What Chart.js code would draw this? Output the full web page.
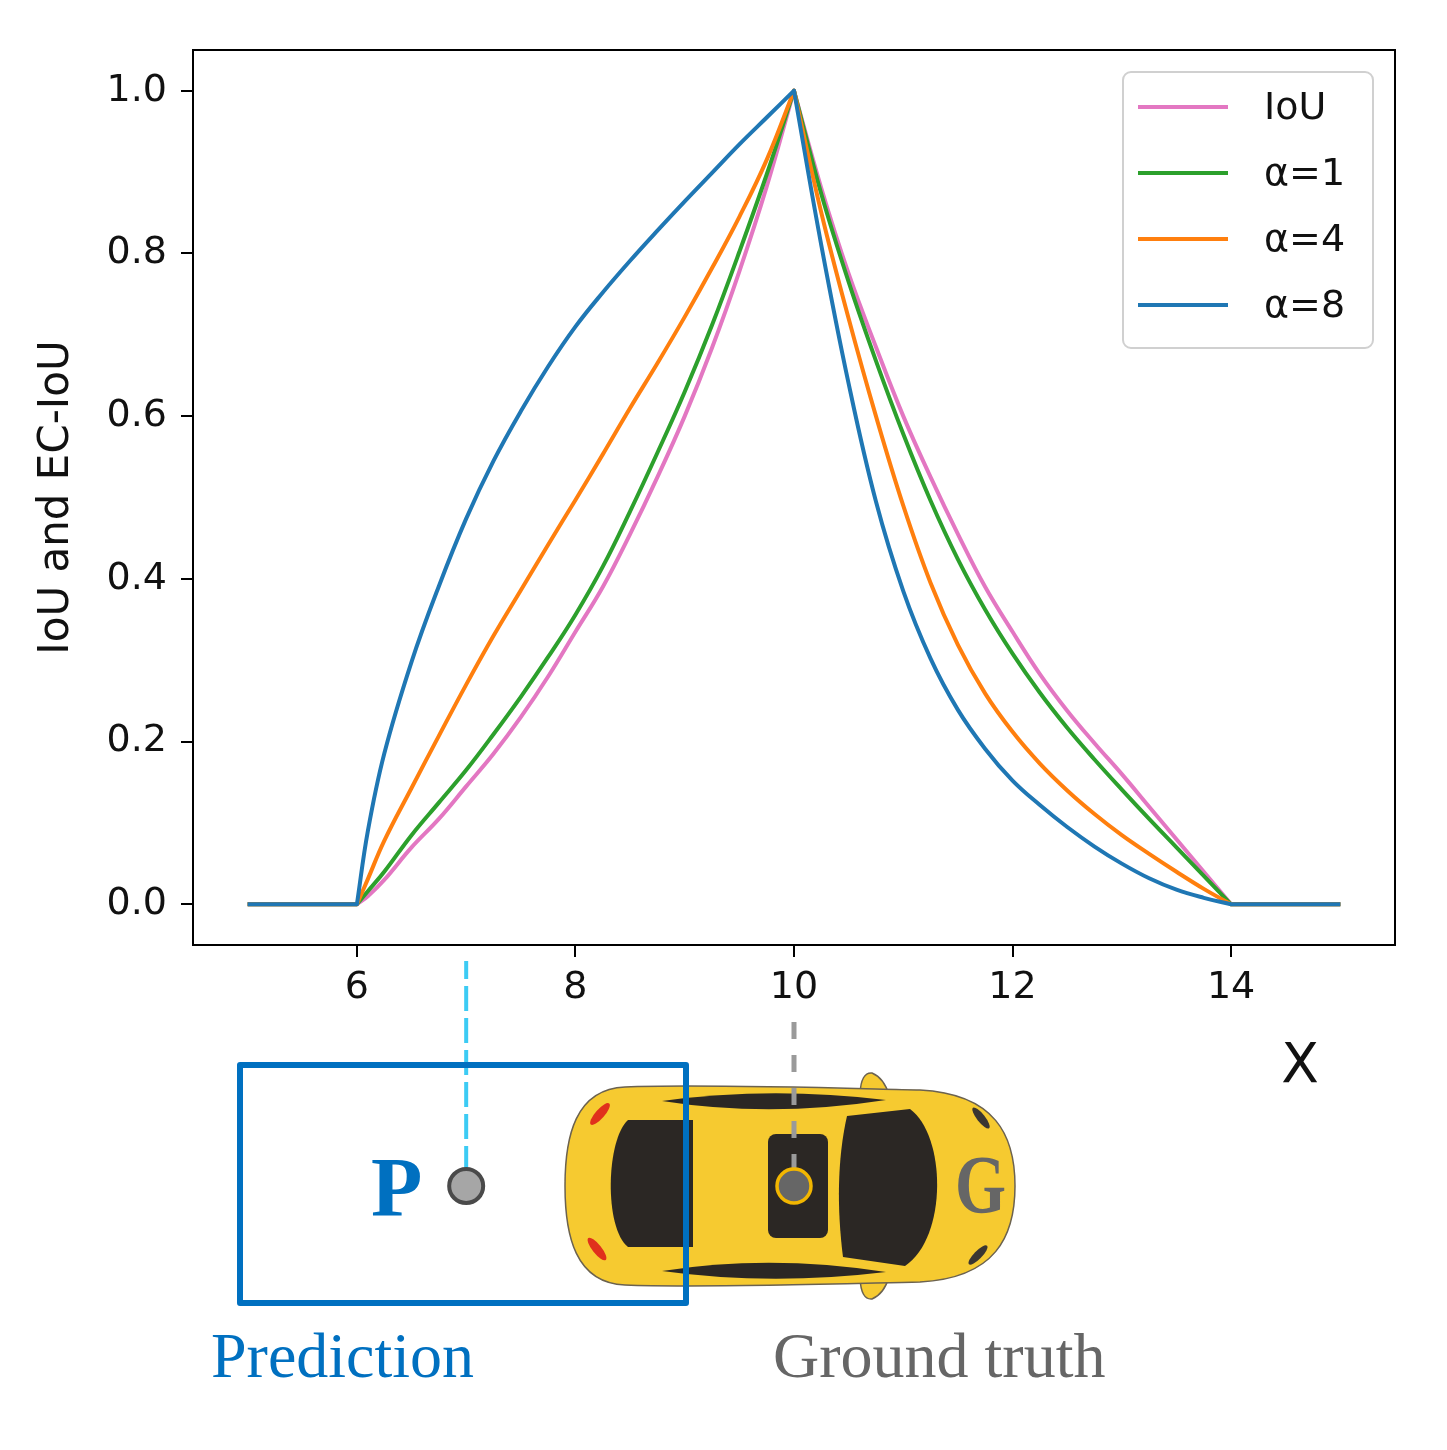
<!DOCTYPE html>
<html>
<head>
<meta charset="utf-8">
<title>IoU and EC-IoU</title>
<script src="https://cdn.jsdelivr.net/npm/chart.js@4.4.1/dist/chart.umd.min.js"></script>
<style>
  body { margin: 0; background: #fff; }
  #wrap { position: relative; width: 1447px; height: 1450px; }
</style>
</head>
<body>
<div id="wrap"><canvas id="iou-chart"></canvas></div>
<script>
const xValues = [5, 6, 6.1, 6.25, 6.5, 6.75, 7, 7.25, 7.5, 7.75, 8, 8.25, 8.5, 8.75, 9, 9.25, 9.5, 9.75, 10,
  10.25, 10.5, 10.75, 11, 11.25, 11.5, 11.75, 12, 12.25, 12.5, 12.75, 13, 13.25, 13.5, 13.75, 14, 15];

const iouValues = [0, 0, 0.01, 0.03, 0.07, 0.105, 0.145, 0.185, 0.23, 0.28, 0.335, 0.39, 0.455, 0.525, 0.6, 0.684, 0.778, 0.882, 1,
  0.88, 0.775, 0.685, 0.6, 0.525, 0.455, 0.39, 0.335, 0.283, 0.238, 0.198, 0.16, 0.12, 0.08, 0.04, 0, 0];
const alpha1Values = [0, 0, 0.016, 0.04, 0.085, 0.125, 0.165, 0.209, 0.255, 0.304, 0.356, 0.415, 0.483, 0.555, 0.63, 0.712, 0.802, 0.897, 1,
  0.873, 0.765, 0.668, 0.578, 0.496, 0.424, 0.362, 0.308, 0.26, 0.217, 0.178, 0.141, 0.105, 0.07, 0.035, 0, 0];
const alpha4Values = [0, 0, 0.031, 0.078, 0.143, 0.207, 0.27, 0.33, 0.386, 0.442, 0.497, 0.553, 0.61, 0.665, 0.722, 0.782, 0.845, 0.915, 1,
  0.85, 0.72, 0.6, 0.49, 0.395, 0.319, 0.259, 0.212, 0.173, 0.14, 0.111, 0.085, 0.062, 0.04, 0.019, 0, 0];
const alpha8Values = [0, 0, 0.09, 0.185, 0.298, 0.391, 0.474, 0.545, 0.606, 0.661, 0.71, 0.752, 0.791, 0.828, 0.864, 0.899, 0.934, 0.967, 1,
  0.81, 0.64, 0.495, 0.385, 0.302, 0.239, 0.191, 0.152, 0.122, 0.095, 0.071, 0.05, 0.032, 0.018, 0.008, 0, 0];

// the curves have sharp corners here, everything else is smooth
const cornerX = [6, 10, 14];

const seriesLabels = ["IoU", "α=1", "α=4", "α=8"];
const seriesColors = ["#e377c2", "#2ca02c", "#ff7f0e", "#1f77b4"];
const xTicks = [6, 8, 10, 12, 14];
const yTicks = [0, 0.2, 0.4, 0.6, 0.8, 1.0];

// where the prediction and ground truth centres sit on X
const predictionX = 7;
const groundTruthX = 10;

const tickFont = { family: "DejaVu Sans", size: 38 };
const serif = '"Liberation Serif", "Times New Roman", serif';

// a corner point is given twice so the spline keeps the corner sharp
function toPoints(values) {
  const points = [];
  xValues.forEach((x, i) => {
    points.push({ x: x, y: values[i] });
    if (cornerX.includes(x)) points.push({ x: x, y: values[i] });
  });
  return points;
}

// legend box inside the plot, upper right
function drawLegend(ctx, chart) {
  ctx.save();
  ctx.beginPath();
  ctx.roundRect(1123, 72, 250, 276, 8);
  ctx.fillStyle = "rgba(255,255,255,0.8)";
  ctx.fill();
  ctx.strokeStyle = "#d0d0d0";
  ctx.lineWidth = 2;
  ctx.stroke();
  ctx.font = '38px "DejaVu Sans"';
  ctx.textBaseline = "middle";
  ctx.fillStyle = "#111";
  chart.data.datasets.forEach((ds, i) => {
    const y = 107 + i * 66;
    ctx.beginPath();
    ctx.moveTo(1138, y);
    ctx.lineTo(1228, y);
    ctx.strokeStyle = ds.borderColor;
    ctx.lineWidth = 4;
    ctx.stroke();
    ctx.fillText(ds.label, 1264, y + 2);
  });
  ctx.restore();
}

function drawCar(ctx) {
  const yellow = "#f6ca30";
  const dark = "#2b2724";
  const edge = "#6b6250";
  const cy = 1186;
  ctx.save();
  ctx.lineWidth = 1.5;
  ctx.strokeStyle = edge;
  ctx.fillStyle = yellow;

  // side mirrors
  [1, -1].forEach((s) => {
    ctx.beginPath();
    ctx.moveTo(860, cy - s * 92);
    ctx.quadraticCurveTo(861, cy - s * 114, 872, cy - s * 113);
    ctx.quadraticCurveTo(884, cy - s * 108, 889, cy - s * 91);
    ctx.closePath();
    ctx.fill();
    ctx.stroke();
  });

  // body
  ctx.beginPath();
  ctx.moveTo(625, 1087);
  ctx.bezierCurveTo(700, 1084, 830, 1088, 920, 1090);
  ctx.bezierCurveTo(995, 1094, 1015, 1135, 1015, cy);
  ctx.bezierCurveTo(1015, 1237, 995, 1278, 920, 1282);
  ctx.bezierCurveTo(830, 1284, 700, 1288, 625, 1285);
  ctx.bezierCurveTo(575, 1283, 565, 1235, 565, cy);
  ctx.bezierCurveTo(565, 1137, 575, 1089, 625, 1087);
  ctx.closePath();
  ctx.fill();
  ctx.stroke();

  ctx.fillStyle = dark;
  // rear window
  ctx.beginPath();
  ctx.moveTo(693, 1120);
  ctx.lineTo(628, 1120);
  ctx.bezierCurveTo(606, 1140, 604, 1228, 628, 1247);
  ctx.lineTo(693, 1247);
  ctx.closePath();
  ctx.fill();

  // side window strips
  [1, -1].forEach((s) => {
    ctx.beginPath();
    ctx.moveTo(662, cy - s * 85);
    ctx.quadraticCurveTo(770, cy - s * 100, 886, cy - s * 86);
    ctx.quadraticCurveTo(770, cy - s * 68, 662, cy - s * 85);
    ctx.closePath();
    ctx.fill();
  });

  // sunroof
  ctx.beginPath();
  ctx.roundRect(768, 1134, 60, 104, 8);
  ctx.fill();

  // windscreen
  ctx.beginPath();
  ctx.moveTo(847, 1116);
  ctx.lineTo(910, 1109);
  ctx.bezierCurveTo(946, 1135, 948, 1237, 905, 1266);
  ctx.lineTo(843, 1257);
  ctx.bezierCurveTo(837, 1210, 837, 1160, 847, 1116);
  ctx.closePath();
  ctx.fill();

  // tail lights
  ctx.fillStyle = "#e0301c";
  ctx.beginPath();
  ctx.ellipse(600, 1114, 14, 4.5, -0.85, 0, Math.PI * 2);
  ctx.fill();
  ctx.beginPath();
  ctx.ellipse(597, 1249, 14, 4.5, 0.9, 0, Math.PI * 2);
  ctx.fill();

  // headlights
  ctx.fillStyle = "#3a3632";
  ctx.beginPath();
  ctx.ellipse(981, 1118, 13, 4, 0.9, 0, Math.PI * 2);
  ctx.fill();
  ctx.beginPath();
  ctx.ellipse(978, 1255, 13, 4, -0.8, 0, Math.PI * 2);
  ctx.fill();
  ctx.restore();
}

function drawScene(ctx, xScale) {
  const px = xScale.getPixelForValue(predictionX);
  const gx = xScale.getPixelForValue(groundTruthX);
  const cy = 1186;

  drawCar(ctx);

  ctx.save();
  // ground truth centre line and marker
  ctx.setLineDash([17, 16]);
  ctx.strokeStyle = "#9a9a9a";
  ctx.lineWidth = 5;
  ctx.beginPath();
  ctx.moveTo(gx, 1022);
  ctx.lineTo(gx, cy - 18);
  ctx.stroke();
  ctx.setLineDash([]);
  ctx.beginPath();
  ctx.arc(gx, cy, 17, 0, Math.PI * 2);
  ctx.fillStyle = "#666666";
  ctx.fill();
  ctx.strokeStyle = "#f2b600";
  ctx.lineWidth = 3.5;
  ctx.stroke();

  // the G is narrower than plain Times bold
  ctx.save();
  ctx.translate(955, 1212);
  ctx.scale(0.8, 1);
  ctx.fillStyle = "#666666";
  ctx.font = "bold 82px " + serif;
  ctx.fillText("G", 0, 0);
  ctx.restore();

  // prediction centre line and marker
  ctx.setLineDash([25, 7]);
  ctx.lineDashOffset = 7;
  ctx.strokeStyle = "#3ccbf4";
  ctx.lineWidth = 4;
  ctx.beginPath();
  ctx.moveTo(px, 961);
  ctx.lineTo(px, cy - 18);
  ctx.stroke();
  ctx.setLineDash([]);
  ctx.beginPath();
  ctx.arc(px, cy, 17, 0, Math.PI * 2);
  ctx.fillStyle = "#a6a6a6";
  ctx.fill();
  ctx.strokeStyle = "#4a4a4a";
  ctx.lineWidth = 4;
  ctx.stroke();

  // prediction box
  ctx.strokeStyle = "#0070c0";
  ctx.lineWidth = 6;
  ctx.lineJoin = "round";
  ctx.strokeRect(240, 1065, 446, 238);

  ctx.fillStyle = "#0070c0";
  ctx.font = "bold 84px " + serif;
  ctx.fillText("P", 371, 1216);

  ctx.font = "64px " + serif;
  ctx.fillText("Prediction", 211, 1377);
  ctx.fillStyle = "#666666";
  ctx.fillText("Ground truth", 773, 1377);

  // axis name, placed under the right end of the axis
  ctx.fillStyle = "#111";
  ctx.font = '55px "DejaVu Sans"';
  ctx.textAlign = "center";
  ctx.fillText("X", 1300, 1082);
  ctx.restore();
}

const scenePlugin = {
  id: "scene",
  afterDraw(chart) {
    const { ctx, chartArea } = chart;
    ctx.save();
    ctx.strokeStyle = "#000";
    ctx.lineWidth = 2;
    ctx.strokeRect(chartArea.left, chartArea.top, chartArea.right - chartArea.left, chartArea.bottom - chartArea.top);
    ctx.restore();
    drawLegend(ctx, chart);
    drawScene(ctx, chart.scales.x);
  },
};

const seriesValues = [iouValues, alpha1Values, alpha4Values, alpha8Values];

new Chart(document.getElementById("iou-chart"), {
  type: "line",
  data: {
    datasets: seriesValues.map((values, i) => ({
      label: seriesLabels[i],
      data: toPoints(values),
      borderColor: seriesColors[i],
      backgroundColor: seriesColors[i],
      borderWidth: 4,
      pointRadius: 0,
      tension: 0.4,
      fill: false,
      borderJoinStyle: "round",
      order: seriesValues.length - 1 - i,
    })),
  },
  options: {
    responsive: true,
    maintainAspectRatio: false,
    animation: false,
    layout: { padding: { left: 0, top: 50, right: 52, bottom: 425 } },
    plugins: {
      legend: { display: false },
      tooltip: { enabled: false },
    },
    scales: {
      x: {
        type: "linear",
        min: 4.5,
        max: 15.5,
        afterBuildTicks: (scale) => {
          scale.ticks = xTicks.map((v) => ({ value: v }));
        },
        afterFit: (scale) => {
          scale.height = 80;
        },
        ticks: { font: tickFont, color: "#111", padding: 8 },
        grid: { drawOnChartArea: false, drawTicks: true, tickLength: 12, color: "#000", lineWidth: 2 },
        border: { display: false },
      },
      y: {
        type: "linear",
        min: -0.05,
        max: 1.05,
        afterBuildTicks: (scale) => {
          scale.ticks = yTicks.map((v) => ({ value: v }));
        },
        afterFit: (scale) => {
          scale.width = 193;
        },
        ticks: { font: tickFont, color: "#111", padding: 14, callback: (v) => v.toFixed(1) },
        grid: { drawOnChartArea: false, drawTicks: true, tickLength: 12, color: "#000", lineWidth: 2 },
        border: { display: false },
        title: {
          display: true,
          text: "IoU and EC-IoU",
          font: { family: "DejaVu Sans", size: 42 },
          color: "#111",
          padding: { top: 32, bottom: 0 },
        },
      },
    },
  },
  plugins: [scenePlugin],
});
</script>
</body>
</html>
